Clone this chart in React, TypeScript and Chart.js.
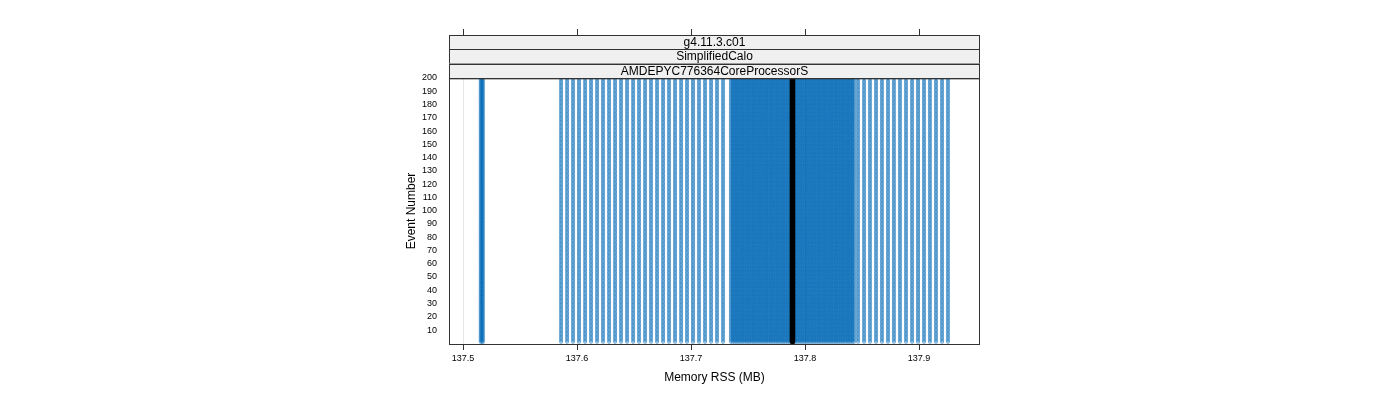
import React, { useEffect, useRef } from "react";
import { Chart, registerables } from "chart.js";

Chart.register(...registerables);

// ---- data ----
const STRIPS = ["g4.11.3.c01", "SimplifiedCalo", "AMDEPYC776364CoreProcessorS"];
const X_TICKS = [137.5, 137.6, 137.7, 137.8, 137.9];
const Y_TICKS = [10, 20, 30, 40, 50, 60, 70, 80, 90, 100, 110, 120, 130, 140, 150, 160, 170, 180, 190, 200];

const EVENTS = [
  1, 2, 3, 4, 5, 6, 7, 8, 9, 10, 11, 12, 13, 14, 15, 16, 17, 18, 19, 20,
  21, 22, 23, 24, 25, 26, 27, 28, 29, 30, 31, 32, 33, 34, 35, 36, 37, 38, 39, 40,
  41, 42, 43, 44, 45, 46, 47, 48, 49, 50, 51, 52, 53, 54, 55, 56, 57, 58, 59, 60,
  61, 62, 63, 64, 65, 66, 67, 68, 69, 70, 71, 72, 73, 74, 75, 76, 77, 78, 79, 80,
  81, 82, 83, 84, 85, 86, 87, 88, 89, 90, 91, 92, 93, 94, 95, 96, 97, 98, 99, 100,
  101, 102, 103, 104, 105, 106, 107, 108, 109, 110, 111, 112, 113, 114, 115, 116, 117, 118, 119, 120,
  121, 122, 123, 124, 125, 126, 127, 128, 129, 130, 131, 132, 133, 134, 135, 136, 137, 138, 139, 140,
  141, 142, 143, 144, 145, 146, 147, 148, 149, 150, 151, 152, 153, 154, 155, 156, 157, 158, 159, 160,
  161, 162, 163, 164, 165, 166, 167, 168, 169, 170, 171, 172, 173, 174, 175, 176, 177, 178, 179, 180,
  181, 182, 183, 184, 185, 186, 187, 188, 189, 190, 191, 192, 193, 194, 195, 196, 197, 198, 199, 200,
];

const MEM_FIRST = [137.5155, 137.5165, 137.5175];
const MEM_LEFT = [
  137.586, 137.5913, 137.5965, 137.6018, 137.6071, 137.6123, 137.6176, 137.6228, 137.6281, 137.6334,
  137.6386, 137.6439, 137.6492, 137.6544, 137.6597, 137.6649, 137.6702, 137.6755, 137.6807, 137.686,
  137.6913, 137.6965, 137.7018, 137.707, 137.7123, 137.7176, 137.7228, 137.7281,
];
const MEM_DENSE = [
  137.735, 137.7365, 137.738, 137.7395, 137.741, 137.7425, 137.744, 137.7455, 137.747, 137.7485,
  137.75, 137.7515, 137.753, 137.7545, 137.756, 137.7575, 137.759, 137.7605, 137.762, 137.7635,
  137.765, 137.7665, 137.768, 137.7695, 137.771, 137.7725, 137.774, 137.7755, 137.777, 137.7785,
  137.78, 137.7815, 137.783, 137.7845, 137.786, 137.7875, 137.789, 137.7905, 137.792, 137.7935,
  137.795, 137.7965, 137.798, 137.7995, 137.801, 137.8025, 137.804, 137.8055, 137.807, 137.8085,
  137.81, 137.8115, 137.813, 137.8145, 137.816, 137.8175, 137.819, 137.8205, 137.822, 137.8235,
  137.825, 137.8265, 137.828, 137.8295, 137.831, 137.8325, 137.834, 137.8355, 137.837, 137.8385,
  137.84, 137.8415, 137.843,
];
const MEM_RIGHT = [
  137.8465, 137.8518, 137.857, 137.8623, 137.8675, 137.8728, 137.878, 137.8833, 137.8886, 137.8939,
  137.8991, 137.9044, 137.9096, 137.9149, 137.9202, 137.9254,
];
const MEM_MEAN = [137.7885, 137.7895];

const X_MIN = 137.4877;
const X_MAX = 137.9535;
const Y_MIN = -0.5;
const Y_MAX = 200;

function pointsFor(mems: number[]) {
  const out: { x: number; y: number }[] = [];
  for (const m of mems) for (const e of EVENTS) out.push({ x: m, y: e });
  return out;
}

const panelPlugin = {
  id: "panelPlugin",
  afterDraw(chart: any) {
    const { ctx, chartArea } = chart;
    const { left, right, top, bottom } = chartArea;
    ctx.save();
    const stripTop = 35;
    const h = (top - stripTop) / STRIPS.length;
    ctx.font = "12px 'Liberation Sans', Arial, sans-serif";
    ctx.textAlign = "center";
    ctx.textBaseline = "middle";
    STRIPS.forEach((s, i) => {
      const y0 = stripTop + i * h;
      ctx.fillStyle = "#f0f0f0";
      ctx.fillRect(left, y0, right - left, h);
      ctx.strokeStyle = "#333";
      ctx.lineWidth = 1;
      ctx.strokeRect(left + 0.5, Math.round(y0) + 0.5, right - left - 1, h);
      ctx.fillStyle = "#000";
      ctx.fillText(s, (left + right) / 2, y0 + h / 2 + 0.5);
    });
    ctx.strokeStyle = "#333";
    ctx.strokeRect(left + 0.5, top + 0.5, right - left - 1, bottom - top);
    const xs = chart.scales.x;
    X_TICKS.forEach((v) => {
      const px = Math.round(xs.getPixelForValue(v)) + 0.5;
      ctx.beginPath();
      ctx.moveTo(px, stripTop - 6);
      ctx.lineTo(px, stripTop);
      ctx.stroke();
    });
    ctx.restore();
  },
};

export default function App() {
  const ref = useRef<HTMLCanvasElement>(null);
  useEffect(() => {
    document.body.style.margin = "0";
    Chart.defaults.font.family = "'Liberation Sans', Arial, sans-serif";
    const fill = "rgba(0,114,189,0.17)";
    const edge = "rgba(0,105,180,0.36)";
    const mk = (label: string, mems: number[], bg: string, bd: string, r: number) => ({
      label,
      data: pointsFor(mems),
      pointRadius: r,
      pointBorderWidth: 1,
      backgroundColor: bg,
      borderColor: bd,
      pointHoverRadius: r,
    });
    const chart = new Chart(ref.current!, {
      type: "scatter",
      data: {
        datasets: [
          mk("mean", MEM_MEAN, "rgba(0,0,0,1)", "rgba(0,0,0,1)", 1.8),
          mk("first", MEM_FIRST, fill, edge, 1.6),
          mk("left", MEM_LEFT, fill, edge, 1.6),
          mk("dense", MEM_DENSE, fill, edge, 1.6),
          mk("right", MEM_RIGHT, fill, edge, 1.6),
        ],
      },
      plugins: [panelPlugin],
      options: {
        animation: false,
        responsive: false,
        devicePixelRatio: 1,
        events: [],
        layout: { padding: { left: 400, right: 420, top: 78, bottom: 0 } },
        plugins: { legend: { display: false }, tooltip: { enabled: false } },
        scales: {
          x: {
            type: "linear",
            min: X_MIN,
            max: X_MAX,
            afterBuildTicks: (s: any) => {
              s.ticks = X_TICKS.map((v) => ({ value: v }));
            },
            afterFit: (s: any) => {
              s.height = 56;
            },
            grid: { color: "#e6e6e6", tickColor: "#333", tickLength: 6, drawTicks: true },
            border: { display: false },
            ticks: {
              font: { size: 9 },
              color: "#000",
              padding: 3,
              maxRotation: 0,
              autoSkip: false,
              callback: (v: any) => Number(v).toFixed(1),
            },
            title: {
              display: true,
              text: "Memory RSS (MB)",
              color: "#000",
              font: { size: 12 },
              padding: 15,
            },
          },
          y: {
            type: "linear",
            min: Y_MIN,
            max: Y_MAX,
            afterBuildTicks: (s: any) => {
              s.ticks = Y_TICKS.map((v) => ({ value: v }));
            },
            afterFit: (s: any) => {
              s.width = 49;
            },
            grid: { display: false },
            border: { display: false },
            ticks: { font: { size: 9 }, color: "#000", padding: 4, autoSkip: false },
            title: {
              display: true,
              text: "Event Number",
              color: "#000",
              font: { size: 12 },
              padding: 4,
            },
          },
        },
      },
    } as any);
    return () => chart.destroy();
  }, []);
  return <canvas ref={ref} width={1400} height={400} style={{ display: "block" }} />;
}
